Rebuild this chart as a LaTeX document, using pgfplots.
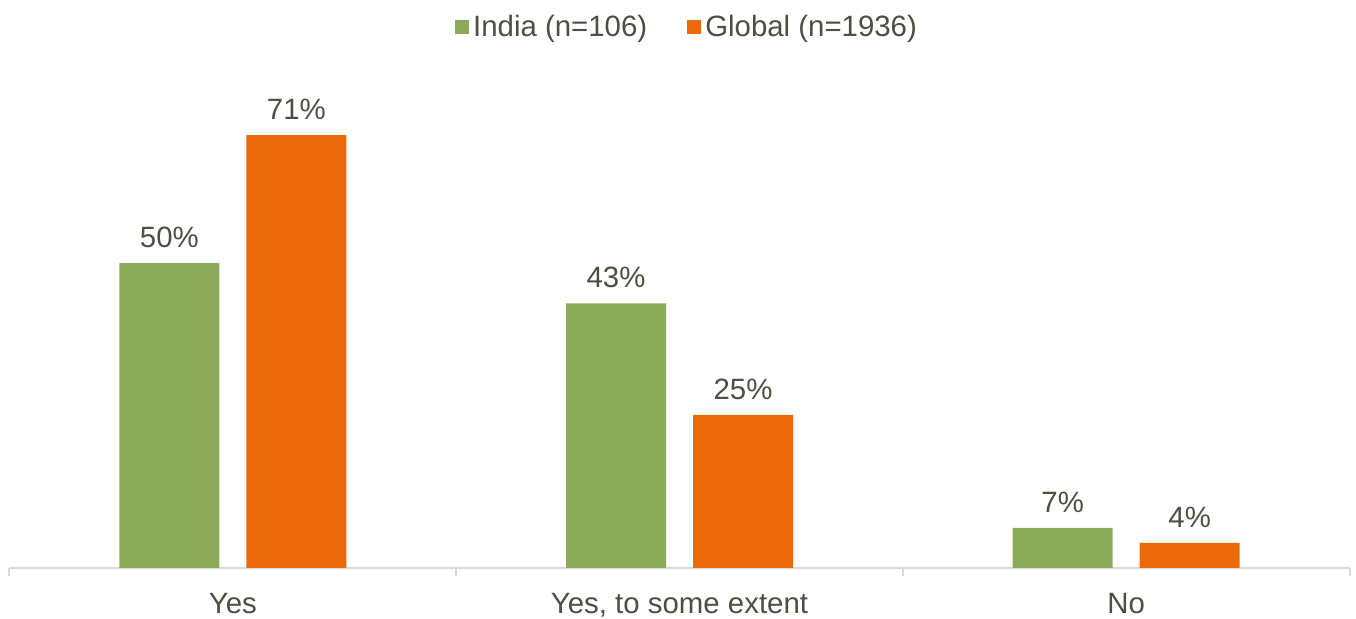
\documentclass[border=0pt]{standalone}
\usepackage{pgfplots}
\pgfplotsset{compat=1.18}
\usepackage{fontspec}
\setmainfont{Liberation Sans}
\definecolor{cgreen}{HTML}{8AAB58}
\definecolor{corange}{HTML}{EB6909}
\definecolor{ctext}{HTML}{4B5040}
\definecolor{caxis}{HTML}{D9D9D9}
\begin{document}
\begin{tikzpicture}
\begin{axis}[
  scale only axis,
  width=670pt, height=254pt,
  xmin=-0.5, xmax=2.5, ymin=0, ymax=83.3,
  axis y line=none,
  axis x line*=bottom,
  x axis line style={caxis, line width=1pt},
  ybar=13.5pt, bar width=50pt,
  xtick={0,1,2},
  xticklabels={Yes, {Yes, to some extent}, No},
  major x tick style={draw=none},
  minor xtick={-0.5,0.5,1.5,2.5},
  minor x tick style={caxis, line width=1pt},
  minor tick length=4pt,
  tick align=outside,
  /pgf/number format/assume math mode=true,
  point meta=explicit,
  xticklabel style={font=\fontsize{14.7}{17}\selectfont, text=ctext, yshift=-5pt},
  nodes near coords={\pgfmathprintnumber{\pgfplotspointmeta}\%},
  nodes near coords style={font=\fontsize{14.7}{17}\selectfont, text=ctext, yshift=4pt},
  legend style={draw=none, at={(0.5064,1.065)}, anchor=center,
    font=\fontsize{14.7}{17}\selectfont, text=ctext, /tikz/every even column/.append style={column sep=18pt}},
  legend columns=2,
  legend image code/.code={\fill[#1] (-1.5pt,-3.5pt) rectangle (5.5pt,3.5pt);},
]
\addplot[fill=cgreen, draw=none] coordinates {(0,50) [50] (1,43.4) [43] (2,6.6) [7]};
\addplot[fill=corange, draw=none] coordinates {(0,71) [71] (1,25.1) [25] (2,4.1) [4]};
\legend{India (n=106), Global (n=1936)}
\end{axis}
\pgfresetboundingbox
\useasboundingbox ([xshift=-4.75pt,yshift=-25.5pt]current axis.south west) rectangle ([xshift=3.25pt,yshift=30pt]current axis.north east);
\end{tikzpicture}
\end{document}
